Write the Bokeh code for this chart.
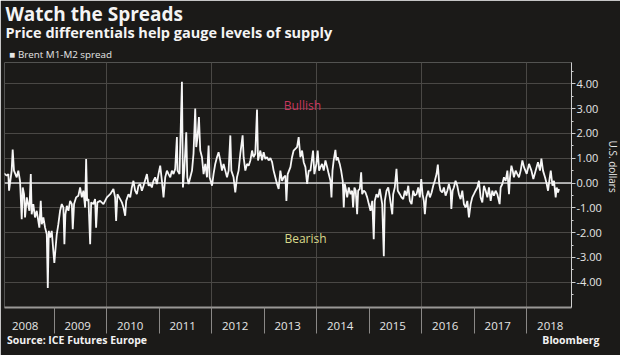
from bokeh.plotting import figure
from bokeh.models import (FixedTicker, NumeralTickFormatter, CustomJSTickFormatter,
                          Label, Span, Range1d, Title, LinearAxis)
from bokeh.embed import file_html
from bokeh.resources import INLINE

# ---------------- data ----------------
START_YEAR = 2008
WEEKS_PER_YEAR = 52.18

# weeks since start of 2008, Brent M1-M2 spread (USD)
weeks_2008_2010 = [2.5, 5.2, 6.8, 7.5, 10.1, 11.1, 12.4, 15.1, 16.7, 18.4, 20.1, 21.1, 22.4, 23.4, 25.1,
                   27.7, 29.1, 30.0, 31.6, 33.3, 35.0, 37.6, 39.0, 40.0, 41.6, 43.3, 45.0, 46.0, 47.0,
                   48.3, 49.9, 51.5, 52.5, 53.5, 54.9, 56.5, 58.2, 59.9, 61.5, 62.5, 63.5, 64.9, 66.5,
                   68.2, 69.9, 70.8, 72.1, 74.1, 76.4, 78.1, 79.8, 81.4, 83.1, 84.1, 85.1, 86.4, 88.1,
                   89.1, 91.3, 93.0, 94.0, 95.3, 98.0, 101.3, 104.7, 108.0, 111.2, 112.9, 113.9, 115.2,
                   117.9, 119.6, 121.2, 122.9, 123.9, 126.2, 127.9, 129.5, 131.1, 132.8, 134.5, 136.1,
                   137.8, 139.5, 141.1, 144.5, 146.1, 147.8, 149.4, 151.0, 152.7, 154.4]
spread_2008_2010 = [0.39, 0.30, 0.36, -0.31, 0.50, 1.35, 0.50, 0.23, 0.50, 0.09, -1.46, -0.18, -0.45, -1.39, -0.58,
                    -1.12, 0.36, -1.26, -0.85, -1.39, -1.12, -1.80, -0.72, -1.66, -1.39, -1.80, -2.07, -4.23, -1.93,
                    -2.20, -1.93, -2.74, -3.22, -2.74, -2.07, -1.66, -1.12, -0.85, -0.99, -2.47, -1.26, -0.92, -1.12,
                    -0.72, -0.85, -1.86, -0.85, -0.58, -0.51, -0.18, -0.58, -0.31, -0.99, 0.97, -0.72, -0.65, -2.47,
                    -0.78, -0.85, -0.65, -1.80, -0.78, -0.72, -0.85, -0.58, -0.45, -0.24, -0.58, -1.53, -0.45,
                    -0.65, -0.78, -0.99, -1.32, -0.72, -0.45, -0.58, -0.18, 0.09, -0.31, -0.45, -0.11,
                    -0.04, -0.31, -0.11, 0.36, -0.11, -0.04, -0.18, 0.09, 0.23, -0.04]

weeks_2011_2013 = [156.0, 157.7, 159.4, 161.0, 162.7, 164.4, 166.0, 167.7, 169.3, 170.9, 172.6, 174.3, 174.9,
                   176.9, 179.3, 180.3, 181.6, 183.6, 184.6, 185.9, 187.6, 189.3, 190.8, 192.5, 193.5, 194.8,
                   196.2, 197.5, 199.2, 200.8, 202.5, 204.2, 205.8, 206.8, 209.2, 210.7, 212.4, 214.1, 215.7,
                   217.4, 219.1, 220.7, 222.4, 224.1, 225.7, 227.4, 228.4, 230.6, 232.3, 234.0, 235.6, 237.3,
                   239.6, 240.6, 242.3, 244.0, 245.6, 247.3, 249.0, 250.5, 252.2, 253.9, 254.9, 257.2, 258.9,
                   260.5, 262.2, 263.9, 265.5, 267.2, 268.9, 270.4, 272.1, 273.8, 275.4, 277.1, 278.8, 280.4,
                   282.1, 283.1, 284.4, 287.1, 288.7, 290.3, 292.0, 293.7, 295.3, 297.0, 298.7, 300.3, 302.0,
                   303.7, 305.3, 307.0, 309.6, 310.9, 312.9, 314.2, 315.6, 316.9, 318.6, 320.2, 321.9, 323.6,
                   325.2, 326.9, 327.9, 328.9, 330.1, 331.8, 332.8, 334.1, 336.1, 337.5, 339.1]
spread_2011_2013 = [0.36, 0.70, 0.09, -0.58, 0.23, 0.50, 0.36, 0.23, 0.50, 0.36, 0.57, 1.85, 0.50,
                    0.36, 4.08, -0.18, 0.50, 2.05, 0.23, -0.04, 0.23, 0.50, 1.18, 3.00, 1.45, 1.85,
                    2.66, 1.31, 1.04, 0.36, 0.77, 0.23, 1.51, 0.23, -0.11, 0.36, 0.77, 1.04, 1.24,
                    0.91, 0.50, 0.77, 0.50, 0.23, 0.50, 1.92, 0.50, 0.23, -0.38, 0.23, 0.50, 1.18,
                    1.92, 1.04, 0.50, 0.77, 0.70, 0.91, 1.31, 1.04, 1.18, 2.96, 0.91, 1.31, 0.91,
                    1.24, 0.97, 1.04, 0.91, 1.01, 0.84, 0.50, 0.23, -0.04, -0.24, 0.50, 0.09, 0.23,
                    0.30, -0.72, 0.36, 0.64, 1.04, 1.31, 1.38, 1.45, 1.85, 1.04, 1.31, 0.84, 0.64,
                    -0.04, 0.50, 0.50, 1.31, 0.36, 0.77, 1.31, 0.50, 0.64, 0.77, 0.50, 0.91, 0.64,
                    0.36, 0.09, -0.58, 0.50, 0.91, 1.34, 0.91, 1.04, 0.77, 0.50, 0.09]

weeks_2014_2018 = [340.1, 341.1, 342.5, 343.5, 345.1, 346.8, 348.4, 349.4, 350.7, 352.0, 353.4, 354.4, 356.0,
                   357.4, 358.4, 360.0, 361.7, 363.4, 365.0, 366.7, 368.4, 369.9, 370.9, 372.6, 374.3, 375.9,
                   378.3, 379.9, 380.9, 382.6, 384.3, 385.9, 388.3, 389.2, 390.8, 392.5, 393.8, 395.8, 397.5,
                   399.2, 400.8, 402.5, 404.2, 405.8, 407.5, 409.1, 410.7, 412.4, 414.1, 415.7, 417.1, 418.4,
                   419.7, 420.7, 422.1, 424.1, 425.7, 427.4, 429.0, 430.6, 432.3, 433.6, 435.0, 436.3, 438.0,
                   439.6, 441.3, 443.0, 444.6, 446.3, 447.0, 448.3, 449.5, 451.2, 452.9, 454.5, 456.2, 457.9,
                   459.5, 461.2, 462.9, 464.5, 466.2, 467.8, 469.4, 471.1, 472.8, 474.4, 476.1, 477.8, 479.4,
                   481.1, 482.8, 484.4, 486.1, 487.7, 489.3, 491.0, 492.7, 495.0, 496.0, 497.7, 499.3, 501.0,
                   502.7, 504.3, 505.3, 506.7, 508.0, 509.2, 510.9, 512.6, 514.2, 515.9, 517.6, 519.2, 521.9,
                   524.2, 526.6, 528.5, 530.8, 533.1, 535.1, 536.5, 538.1, 540.1, 541.8, 543.1, 544.8, 545.8,
                   547.5, 549.0, 550.7, 551.7, 553.0, 554.0]
spread_2014_2018 = [-0.99, -0.04, -0.31, -0.58, -0.18, -0.45, -0.31, -0.99, -0.18, -0.31, -1.26, -0.31, -0.24,
                    0.43, -0.45, -0.31, -0.38, -0.58, -0.85, -1.12, -0.72, -2.27, -0.72, -0.45, -0.58, -0.24,
                    -0.85, -2.95, -0.72, -0.31, -0.18, -0.58, -1.26, -0.45, -0.18, 0.57, -0.31, -0.45, -0.58,
                    -0.65, -0.31, -0.51, -0.11, -0.72, -0.85, -0.31, -0.51, -0.45, -0.18, -0.58, 0.16, -0.45,
                    -0.72, -1.26, -0.58, -0.31, -0.58, -0.38, -0.11, 0.09, 0.36, 0.74, -0.04, -0.31, -0.38,
                    -0.18, -0.51, -0.31, -0.04, -0.31, -1.05, -0.31, -0.18, 0.09, -0.11, -0.45, -0.65, -0.31,
                    -0.85, -0.99, -0.72, -1.39, -0.85, -0.58, -0.45, -0.31, -0.18, 0.09, -0.58, -0.78, -0.11,
                    -0.31, -0.58, -0.18, -0.72, -0.31, -0.51, -0.31, -0.45, -0.85, -0.18, -0.04, 0.23, 0.09,
                    0.50, -0.45, 0.23, 0.70, 0.50, 0.23, 0.50, 0.36, 0.23, 0.50, 0.91, 0.64, 0.37,
                    0.77, 0.50, 0.16, 0.50, 0.84, 0.50, 0.98, 0.50, 0.23, -0.04, -0.31, 0.23, 0.50,
                    -0.11, 0.09, -0.58, -0.18, -0.38, -0.24]

years = list(range(2008, 2019))
gridline_years = [2010, 2012, 2014, 2016, 2018]
y_ticks = [-4, -3, -2, -1, 0, 1, 2, 3, 4]
y_minor_ticks = [-4.5, -3.5, -2.5, -1.5, -0.5, 0.5, 1.5, 2.5, 3.5, 4.5]

title_text = "Watch the Spreads"
subtitle_text = "Price differentials help gauge levels of supply"
legend_text = "\u25a0 Brent M1-M2 spread"
source_text = "Source: ICE Futures Europe"
brand_text = "Bloomberg"
y_label_text = "U.S. dollars"
bullish_text, bullish_pos = "Bullish", (2013.73, 3.13)
bearish_text, bearish_pos = "Bearish", (2013.79, -2.24)

weeks = weeks_2008_2010 + weeks_2011_2013 + weeks_2014_2018
spread = spread_2008_2010 + spread_2011_2013 + spread_2014_2018
xs = [START_YEAR + w / WEEKS_PER_YEAR for w in weeks]

# ---------------- style ----------------
BG = "#1b1a18"
GRID = "#4a4845"
TXT = "#e6e6e6"
FONT = "Open Sans"

p = figure(width=620, height=355, output_backend="svg", toolbar_location=None,
           x_range=Range1d(2008.057, 2018.855), y_range=Range1d(-5.02, 4.86),
           y_axis_location="right",
           min_border_left=4, min_border_right=49, min_border_top=62, min_border_bottom=48,
           background_fill_color=BG, border_fill_color=BG, outline_line_color=None)

# grids
p.xgrid.ticker = FixedTicker(ticks=gridline_years)
p.ygrid.ticker = FixedTicker(ticks=y_ticks)
p.xgrid.grid_line_color = GRID
p.ygrid.grid_line_color = GRID
p.xgrid.grid_line_width = 1
p.ygrid.grid_line_width = 1

p.add_layout(Span(location=0, dimension="width", line_color="#d6d6d6", line_width=1.5, level="underlay"))

# data
p.line(xs, spread, line_color="#f6f6f6", line_width=1.8)

# x axis: year labels mid-year, dividers at year boundaries
xa = p.xaxis[0]
xa.ticker = FixedTicker(ticks=[y + 0.45 for y in years], minor_ticks=years[1:])
xa.formatter = CustomJSTickFormatter(code="return Math.floor(tick).toFixed(0)")
xa.major_tick_line_color = None
xa.major_tick_out = 0
xa.major_tick_in = 0
xa.minor_tick_out = 26
xa.minor_tick_in = 0
xa.minor_tick_line_color = "#8a8886"
xa.minor_tick_line_width = 1
xa.axis_line_color = "#9a9896"
xa.axis_line_width = 2
xa.major_label_standoff = -12
xa.major_label_text_font = FONT
xa.major_label_text_font_size = "11.5px"
xa.major_label_text_color = TXT

# footer line (source + brand) as a second, line-less axis on a 0..1 range
p.extra_x_ranges = {"foot": Range1d(0, 1)}
foot = LinearAxis(x_range_name="foot",
                  ticker=FixedTicker(ticks=[0.128, 0.999]),
                  formatter=CustomJSTickFormatter(args=dict(src=source_text, brand=brand_text),
                                                  code="return tick < 0.5 ? src : brand"))
foot.axis_line_color = None
foot.major_tick_line_color = None
foot.minor_tick_line_color = None
foot.major_tick_out = 0
foot.minor_tick_out = 0
foot.major_tick_in = 0
foot.minor_tick_in = 0
foot.major_label_standoff = 0
foot.major_label_text_font = FONT
foot.major_label_text_font_style = "bold"
foot.major_label_text_font_size = "10.5px"
foot.major_label_text_color = "#f2f2f2"
p.add_layout(foot, "below")

# y axis (right)
ya = p.yaxis[0]
ya.ticker = FixedTicker(ticks=y_ticks, minor_ticks=y_minor_ticks)
ya.formatter = NumeralTickFormatter(format="0.00")
ya.axis_line_color = "#cfcfcf"
ya.major_tick_line_color = "#cfcfcf"
ya.minor_tick_line_color = "#cfcfcf"
ya.major_tick_out = 4
ya.major_tick_in = 0
ya.minor_tick_out = 2
ya.minor_tick_in = 0
ya.major_label_standoff = 1
ya.major_label_text_font = FONT
ya.major_label_text_font_size = "11px"
ya.major_label_text_color = TXT

# y axis title on the right
p.add_layout(Title(text=y_label_text, align="left", offset=78, standoff=0,
                   vertical_align="middle", text_font=FONT, text_font_size="10px",
                   text_font_style="normal", text_color=TXT), "right")

# headings: added nearest-to-frame first
p.add_layout(Title(text=legend_text, align="left", offset=5, standoff=1.7,
                   vertical_align="middle", text_font=FONT, text_font_size="9.8px",
                   text_font_style="normal", text_color=TXT), "above")
p.add_layout(Title(text=subtitle_text, align="left", offset=1, standoff=5.3,
                   vertical_align="middle", text_font=FONT, text_font_size="14.5px",
                   text_font_style="bold", text_color="#f4f4f4"), "above")
p.add_layout(Title(text=title_text, align="left", offset=1, standoff=-16,
                   vertical_align="middle", text_font=FONT, text_font_size="19px",
                   text_font_style="bold", text_color="#f4f4f4"), "above")

# annotations inside the plot
for txt, pos, col in [(bullish_text, bullish_pos, "#c9375f"), (bearish_text, bearish_pos, "#d9d98c")]:
    p.add_layout(Label(x=pos[0], y=pos[1], text=txt, text_font=FONT, text_font_size="12px",
                       text_color=col, text_align="center", text_baseline="middle"))

open("out.html", "w").write(file_html(p, INLINE))
